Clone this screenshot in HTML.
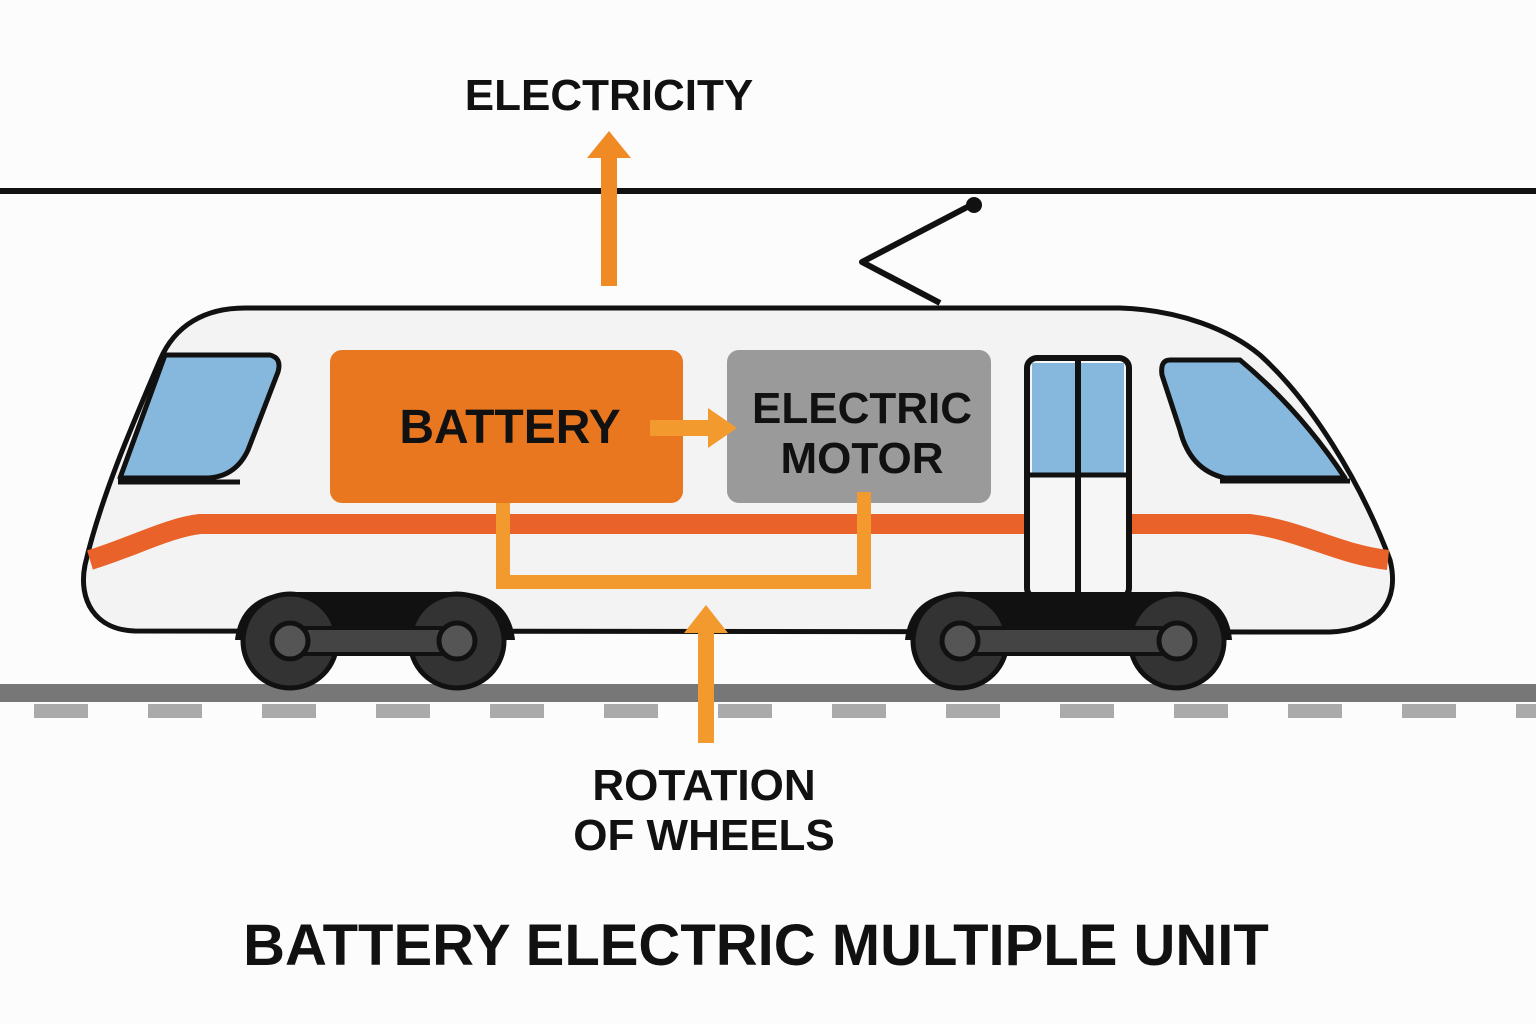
<!DOCTYPE html>
<html><head><meta charset="utf-8"><style>body{margin:0;background:#fcfcfc}svg{display:block}text{font-family:"Liberation Sans",sans-serif;font-weight:bold;fill:#111;text-anchor:middle}</style></head>
<body>
<svg width="1536" height="1024" viewBox="0 0 1536 1024">
<rect width="1536" height="1024" fill="#fcfcfc"/>
<text x="609" y="110" font-size="44">ELECTRICITY</text>
<line x1="0" y1="191" x2="1536" y2="191" stroke="#111" stroke-width="6"/>
<polyline points="940,303 862,262 975,203" fill="none" stroke="#111" stroke-width="6" stroke-linejoin="round"/>
<circle cx="974" cy="205" r="8" fill="#111"/>
<rect x="601" y="155" width="16" height="131" fill="#f08a24"/>
<polygon points="587,158 631,158 609,131" fill="#f08a24"/>
<!-- rail -->
<rect x="0" y="684" width="1536" height="18" fill="#777"/>
<g fill="#aaa">
<rect x="34" y="704" width="54" height="14"/><rect x="148" y="704" width="54" height="14"/><rect x="262" y="704" width="54" height="14"/><rect x="376" y="704" width="54" height="14"/><rect x="490" y="704" width="54" height="14"/><rect x="604" y="704" width="54" height="14"/><rect x="718" y="704" width="54" height="14"/><rect x="832" y="704" width="54" height="14"/><rect x="946" y="704" width="54" height="14"/><rect x="1060" y="704" width="54" height="14"/><rect x="1174" y="704" width="54" height="14"/><rect x="1288" y="704" width="54" height="14"/><rect x="1402" y="704" width="54" height="14"/><rect x="1516" y="704" width="54" height="14"/>
</g>
<!-- body -->
<path d="M245,308 L1120,308 C1180,310 1230,330 1260,355 C1310,400 1360,480 1390,560 C1400,600 1380,630 1330,632 L135,631 C95,630 78,600 85,565 C100,500 130,430 160,360 C175,325 205,308 245,308 Z" fill="#f3f3f3" stroke="#111" stroke-width="5"/>
<path d="M90,560 C130,548 170,527 200,524 L1250,524 C1300,530 1340,555 1388,560" fill="none" stroke="#e8622a" stroke-width="20"/>
<line x1="118" y1="482" x2="240" y2="482" stroke="#111" stroke-width="5"/>
<line x1="1220" y1="481" x2="1350" y2="481" stroke="#111" stroke-width="5"/>
<path d="M165,355 L270,355 Q282,358 278,372 L248,450 Q235,478 205,478 L120,478 Z" fill="#86b8dd" stroke="#111" stroke-width="5" stroke-linejoin="round"/>
<path d="M1170,360 L1240,360 Q1300,410 1345,478 L1225,478 Q1190,470 1180,430 L1162,375 Q1160,360 1170,360 Z" fill="#86b8dd" stroke="#111" stroke-width="5" stroke-linejoin="round"/>
<rect x="1027" y="358" width="102" height="240" rx="10" fill="#f6f6f6" stroke="#111" stroke-width="6"/>
<rect x="1032" y="363" width="92" height="112" fill="#86b8dd"/>
<line x1="1027" y1="475" x2="1129" y2="475" stroke="#111" stroke-width="5"/>
<line x1="1078" y1="358" x2="1078" y2="598" stroke="#111" stroke-width="6"/>
<!-- boxes -->
<rect x="330" y="350" width="353" height="153" rx="12" fill="#e8771f"/>
<text x="510" y="443" font-size="48">BATTERY</text>
<rect x="727" y="350" width="264" height="153" rx="12" fill="#9a9a9a"/>
<text x="862" y="423" font-size="44">ELECTRIC</text>
<text x="862" y="473" font-size="44">MOTOR</text>
<rect x="650" y="420" width="62" height="16" fill="#f29a2e"/>
<polygon points="708,408 737,428 708,448" fill="#f29a2e"/>
<polyline points="503,503 503,582 864,582 864,492" fill="none" stroke="#f29a2e" stroke-width="14"/>
<!-- bogies -->
<path d="M235,640 Q240,595 290,592 L460,592 Q510,595 515,640 Z" fill="#111"/>
<path d="M905,640 Q910,595 960,592 L1180,592 Q1228,595 1232,640 Z" fill="#111"/>
<g stroke="#111" stroke-width="5">
<circle cx="290" cy="641" r="47" fill="#333"/><circle cx="457" cy="641" r="47" fill="#333"/>
<circle cx="960" cy="641" r="47" fill="#333"/><circle cx="1177" cy="641" r="47" fill="#333"/>
</g>
<rect x="290" y="628" width="167" height="26" fill="#444" stroke="#111" stroke-width="4"/>
<rect x="960" y="628" width="217" height="26" fill="#444" stroke="#111" stroke-width="4"/>
<g fill="#555" stroke="#111" stroke-width="5">
<circle cx="290" cy="641" r="18"/><circle cx="457" cy="641" r="18"/><circle cx="960" cy="641" r="18"/><circle cx="1177" cy="641" r="18"/>
</g>
<rect x="698" y="630" width="16" height="113" fill="#f29a2e"/>
<polygon points="684,633 728,633 706,605" fill="#f29a2e"/>
<text x="704" y="800" font-size="44">ROTATION</text>
<text x="704" y="850" font-size="44">OF WHEELS</text>
<text x="756" y="965" font-size="58">BATTERY ELECTRIC MULTIPLE UNIT</text>
</svg>
</body></html>
